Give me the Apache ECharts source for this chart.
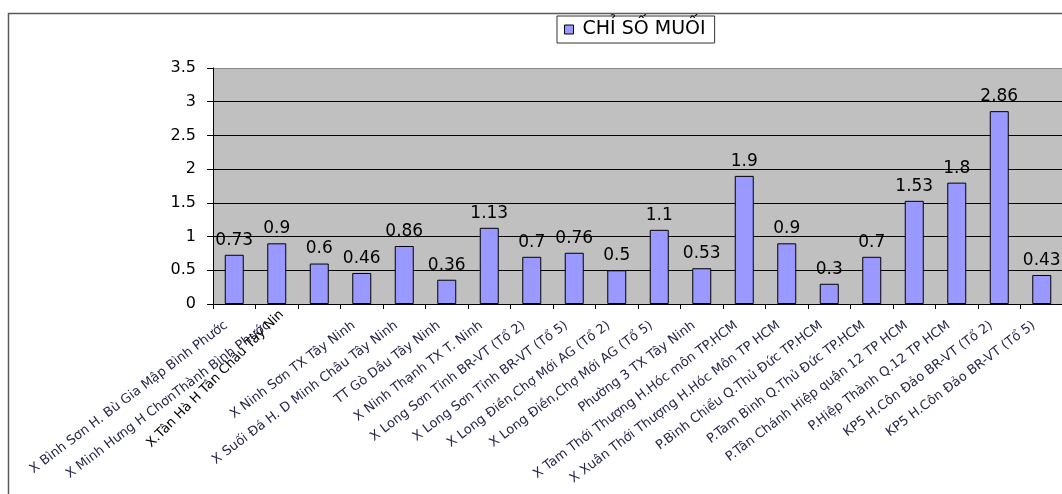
<!DOCTYPE html>
<html>
<head>
<meta charset="utf-8">
<script src="https://cdn.jsdelivr.net/npm/echarts@6/dist/echarts.min.js"></script>
<style>
html,body{margin:0;padding:0;background:#fff;}
#chart{width:1062px;height:494px;}
</style>
</head>
<body>
<div id="chart"></div>
<script>
var categories = [
  "X Bình Sơn H. Bù Gia Mập Bình Phước",
  "X Minh Hưng H ChơnThành Bình Phước",
  "X.Tân Hà H Tân Châu Tây Nin",
  "X Ninh Sơn TX Tây Ninh",
  "X Suối Đá H. D Minh Châu Tây Ninh",
  "TT Gò Dầu Tây Ninh",
  "X Ninh Thạnh TX T. Ninh",
  "X Long Sơn Tỉnh BR-VT (Tổ 2)",
  "X Long Sơn Tỉnh BR-VT (Tổ 5)",
  "X Long Điền,Chợ Mới AG (Tổ 2)",
  "X Long Điền,Chợ Mới AG (Tổ 5)",
  "Phường 3 TX Tây Ninh",
  "X Tam Thới Thượng H.Hóc môn TP.HCM",
  "X Xuân Thới Thượng H.Hóc Môn TP HCM",
  "P.Bình Chiểu Q.Thủ Đức TP.HCM",
  "P.Tam Bình Q.Thủ Đức TP.HCM",
  "P.Tân Chánh Hiệp quận 12 TP HCM",
  "P.Hiệp Thành Q.12 TP HCM",
  "KP5 H.Côn Đảo BR-VT (Tổ 2)",
  "KP5 H.Côn Đảo BR-VT (Tổ 5)"
];
var saltIndex = [0.73, 0.9, 0.6, 0.46, 0.86, 0.36, 1.13, 0.7, 0.76, 0.5, 1.1, 0.53, 1.9, 0.9, 0.3, 0.7, 1.53, 1.8, 2.86, 0.43];
var seriesName = "CHỈ SỐ MUỐI";
var yTicks = [0, 0.5, 1, 1.5, 2, 2.5, 3, 3.5];
var steepLabelIndex = 2; // this one label is drawn steeper, in black

var FONT = "DejaVu Sans";

var chart = echarts.init(document.getElementById("chart"), null, { renderer: "canvas" });
chart.setOption({
  animation: false,
  backgroundColor: "#fff",
  graphic: [{
    type: "rect",
    shape: { x: 8.5, y: 13.5, width: 1200, height: 600 },
    style: { fill: null, stroke: "#5a5a5a", lineWidth: 1.5 },
    silent: true,
    z: 100
  }],
  legend: {
    left: 557,
    top: 16,
    padding: [4, 9, 4, 7],
    borderColor: "#333",
    borderWidth: 1,
    backgroundColor: "#fff",
    itemWidth: 9,
    itemHeight: 9,
    icon: "rect",
    itemStyle: { borderColor: "#000", borderWidth: 1 },
    textStyle: { fontFamily: FONT, fontSize: 19, color: "#000", padding: [0, 0, 0, 4] },
    data: [seriesName]
  },
  grid: {
    left: 213,
    top: 68,
    right: -1,
    bottom: 190,
    show: true,
    backgroundColor: "#C0C0C0",
    borderWidth: 0,
    containLabel: false,
    outerBoundsMode: "none"
  },
  xAxis: [{
    type: "category",
    data: categories,
    boundaryGap: true,
    axisLine: { show: true, lineStyle: { color: "#000", width: 1 } },
    axisTick: { show: true, alignWithLabel: false, length: 5, lineStyle: { color: "#000" } },
    axisLabel: {
      interval: 0,
      hideOverlap: false,
      rotate: 37,
      margin: 14,
      padding: [0, 10, 0, 0],
      fontFamily: FONT,
      fontSize: 13,
      color: "#262650",
      formatter: function (v, i) { return i === steepLabelIndex ? "" : v; }
    },
    splitLine: { show: false }
  }, {
    type: "category",
    data: categories,
    position: "bottom",
    boundaryGap: true,
    axisLine: { show: false },
    axisTick: { show: false },
    axisLabel: {
      interval: 0,
      hideOverlap: false,
      rotate: 45,
      margin: -29,
      padding: [0, 53, 0, 0],
      fontFamily: FONT,
      fontSize: 13,
      color: "#000",
      formatter: function (v, i) { return i === steepLabelIndex ? v : ""; }
    },
    splitLine: { show: false }
  }],
  yAxis: {
    type: "value",
    min: yTicks[0],
    max: yTicks[yTicks.length - 1],
    interval: 0.5,
    axisLine: { show: true, lineStyle: { color: "#000", width: 1 } },
    axisTick: { show: true, length: 6, lineStyle: { color: "#000" } },
    axisLabel: {
      margin: 17,
      fontFamily: FONT,
      fontSize: 16,
      color: "#000",
      formatter: function (v) { return String(v); }
    },
    splitLine: {
      show: true,
      lineStyle: { color: ["#000", "#000", "#000", "#000", "#000", "#000", "#000", "#8a8a8a"], width: 1 }
    }
  },
  series: [{
    name: seriesName,
    type: "bar",
    xAxisIndex: 0,
    data: saltIndex,
    barWidth: 19,
    itemStyle: { color: "#9999FF", borderColor: "#000", borderWidth: 1 },
    label: {
      show: true,
      position: "top",
      distance: 6,
      fontFamily: FONT,
      fontSize: 17,
      color: "#000"
    }
  }]
});
</script>
</body>
</html>
